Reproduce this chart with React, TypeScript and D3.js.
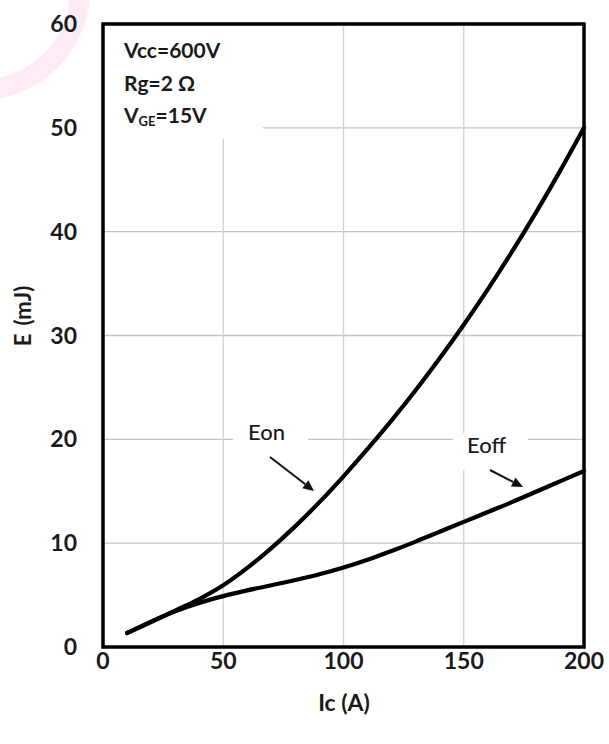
import React from "react";
import * as d3 from "d3";

const ic = [10, 20, 30, 40, 50, 60, 70, 80, 90, 100, 110, 120, 130, 140, 150, 160, 170, 180, 190, 200];
const eon = [1.35, 2.4, 3.5, 4.62, 5.95, 7.62, 9.53, 11.64, 13.95, 16.44, 19.07, 21.83, 24.73, 27.8, 31.04, 34.45, 38.05, 41.84, 45.83, 50];
const eoff = [1.35, 2.45, 3.45, 4.25, 4.9, 5.45, 5.95, 6.45, 7.0, 7.65, 8.4, 9.25, 10.15, 11.1, 12.05, 13.0, 13.95, 14.95, 15.95, 16.95];
const xTicks = [0, 50, 100, 150, 200];
const yTicks = [0, 10, 20, 30, 40, 50, 60];
const gridX = [50, 100, 150];
const gridY = [10, 20, 30, 40, 50];
const infoLines = ["Vcc=600V", "Rg=2 Ω"];

const FONT = "Lato, 'Open Sans', sans-serif";

export default function App() {
  const x = d3.scaleLinear().domain([0, 200]).range([103, 584]);
  const y = d3.scaleLinear().domain([0, 60]).range([647, 24]);
  const line = d3
    .line<number>()
    .x((_, i) => x(ic[i]))
    .y((d) => y(d))
    .curve(d3.curveCatmullRom.alpha(0.5));

  const arrow = (x1: number, y1: number, x2: number, y2: number) => {
    const ang = Math.atan2(y2 - y1, x2 - x1);
    const L = 11, W = 5;
    const bx = x2 - L * Math.cos(ang), by = y2 - L * Math.sin(ang);
    const px = -Math.sin(ang) * W, py = Math.cos(ang) * W;
    return (
      <g>
        <line x1={x1} y1={y1} x2={bx} y2={by} stroke="#111" strokeWidth={2} />
        <path d={`M${x2},${y2}L${bx + px},${by + py}L${bx - px},${by - py}Z`} fill="#111" />
      </g>
    );
  };

  return (
    <svg width={609} height={744} style={{ position: "absolute", left: 0, top: 0, background: "#fff" }}>
      <rect x={0} y={0} width={609} height={744} fill="#fff" />
      <circle cx={-20} cy={-10} r={100} fill="none" stroke="#fdebf5" strokeWidth={20} />
      {/* grid */}
      {gridY.map((v) => (
        <line key={"gy" + v} x1={x(0)} x2={x(200)} y1={y(v)} y2={y(v)} stroke="#c4c4c4" strokeWidth={1.3} />
      ))}
      {gridX.map((v) => (
        <line key={"gx" + v} x1={x(v)} x2={x(v)} y1={y(60)} y2={y(0)} stroke="#d2d2d2" strokeWidth={1.3} />
      ))}
      {/* annotation backgrounds */}
      <rect x={104} y={25} width={159} height={114} fill="#fff" />
      <rect x={233} y={424} width={75} height={30} fill="#fff" />
      <rect x={453} y={433} width={75} height={37} fill="#fff" />
      {/* curves */}
      <path d={line(eoff) || ""} fill="none" stroke="#000" strokeWidth={4.2} strokeLinecap="round" strokeLinejoin="round" />
      <path d={line(eon) || ""} fill="none" stroke="#000" strokeWidth={4.2} strokeLinecap="round" strokeLinejoin="round" />
      {/* frame */}
      <rect x={x(0)} y={y(60)} width={x(200) - x(0)} height={y(0) - y(60)} fill="none" stroke="#000" strokeWidth={3.5} />
      {/* info text */}
      <g fontFamily={FONT} fontWeight={700} fontSize={21} fill="#1a1a1a">
        {infoLines.map((t, i) => (
          <text key={t} x={124} y={58 + i * 33}>{t}</text>
        ))}
        <text x={124} y={123}>
          V<tspan fontSize={13} dy={3}>GE</tspan>
          <tspan dy={-3}>=15V</tspan>
        </text>
      </g>
      {/* labels */}
      <g fontFamily={FONT} fontWeight={500} fontSize={22} fill="#1a1a1a">
        <text x={248} y={440}>Eon</text>
        <text x={467} y={453}>Eoff</text>
      </g>
      {arrow(270, 457, 314, 491)}
      {arrow(490, 470, 523, 487)}
      {/* ticks and axis titles */}
      <g fontFamily={FONT} fontWeight={700} fontSize={23} fill="#1a1a1a">
        {yTicks.map((v) => (
          <text key={"yt" + v} x={77} y={y(v) + 8} textAnchor="end">{v}</text>
        ))}
        {xTicks.map((v) => (
          <text key={"xt" + v} x={x(v)} y={669} textAnchor="middle">{v}</text>
        ))}
        <text x={344} y={711} textAnchor="middle" fontSize={23}>Ic (A)</text>
        <text transform="translate(31,316) rotate(-90)" textAnchor="middle" fontSize={22}>
          E<tspan dx={8}>(mJ)</tspan>
        </text>
      </g>
    </svg>
  );
}
